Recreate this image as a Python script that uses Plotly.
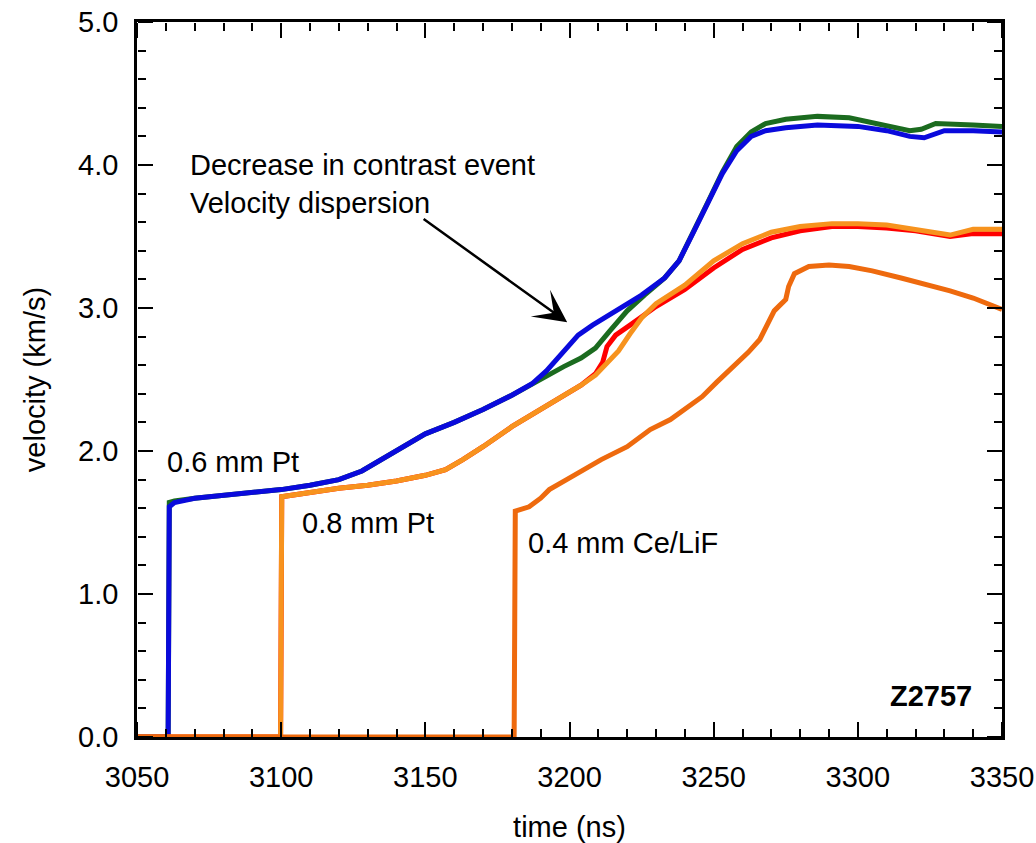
import plotly.graph_objects as go

# 0.6 mm Pt (blue)
t_blue = [3050, 3060.8, 3061.2, 3063, 3070, 3080, 3090, 3100, 3110, 3120, 3128, 3133, 3140, 3150, 3160, 3170, 3180, 3187,
          3192, 3197, 3203, 3208, 3215, 3225, 3233, 3238, 3243, 3248, 3253, 3258, 3263, 3268, 3275, 3286, 3300, 3310,
          3318, 3323, 3326, 3330, 3340, 3350]
v_blue = [0, 0, 1.61, 1.64, 1.67, 1.69, 1.71, 1.73, 1.76, 1.80, 1.86, 1.92, 2.01, 2.12, 2.20, 2.29, 2.39, 2.47,
          2.56, 2.67, 2.81, 2.88, 2.97, 3.09, 3.21, 3.33, 3.53, 3.74, 3.94, 4.10, 4.20, 4.24, 4.26, 4.28, 4.27, 4.24,
          4.20, 4.19, 4.21, 4.24, 4.24, 4.23]

# 0.6 mm Pt (green)
t_green = [3050, 3060.8, 3061.2, 3063, 3070, 3080, 3090, 3100, 3110, 3120, 3128, 3133, 3140, 3150, 3160, 3170, 3180, 3187,
           3192, 3198, 3204, 3209, 3214, 3220, 3226, 3233, 3238, 3243, 3248, 3253, 3258, 3263, 3268, 3275, 3286, 3297,
           3308, 3318, 3322, 3327, 3340, 3350]
v_green = [0, 0, 1.64, 1.65, 1.67, 1.69, 1.71, 1.73, 1.76, 1.80, 1.86, 1.92, 2.01, 2.12, 2.20, 2.29, 2.39, 2.47,
           2.53, 2.59, 2.65, 2.72, 2.84, 2.98, 3.09, 3.21, 3.33, 3.53, 3.74, 3.95, 4.13, 4.23, 4.29, 4.32, 4.34, 4.33,
           4.28, 4.24, 4.25, 4.29, 4.28, 4.27]

# 0.8 mm Pt (red)
t_red = [3050, 3099.8, 3100.2, 3110, 3120, 3130, 3140, 3150, 3157, 3163, 3170, 3180, 3190, 3198, 3204, 3209, 3211.5,
         3213, 3216, 3221, 3230, 3240, 3250, 3260, 3270, 3280, 3291, 3300, 3310, 3320, 3332, 3340, 3350]
v_red = [0, 0, 1.68, 1.71, 1.74, 1.76, 1.79, 1.83, 1.87, 1.94, 2.03, 2.17, 2.29, 2.38, 2.46, 2.54, 2.62,
         2.73, 2.81, 2.88, 3.01, 3.13, 3.28, 3.41, 3.49, 3.54, 3.57, 3.57, 3.56, 3.54, 3.50, 3.52, 3.52]

# 0.8 mm Pt (light orange)
t_orange = [3050, 3099.8, 3100.2, 3110, 3120, 3130, 3140, 3150, 3157, 3163, 3170, 3180, 3190, 3198, 3204, 3209, 3213,
            3217, 3221, 3225, 3230, 3240, 3250, 3260, 3270, 3280, 3291, 3300, 3310, 3320, 3332, 3340, 3350]
v_orange = [0, 0, 1.68, 1.71, 1.74, 1.76, 1.79, 1.83, 1.87, 1.94, 2.03, 2.17, 2.29, 2.38, 2.46, 2.53, 2.61,
            2.70, 2.82, 2.93, 3.03, 3.16, 3.33, 3.45, 3.53, 3.57, 3.59, 3.59, 3.58, 3.55, 3.51, 3.55, 3.55]

# 0.4 mm Ce/LiF (dark orange)
t_ce = [3050, 3180.8, 3181.2, 3186, 3190, 3193, 3199, 3205, 3211, 3220, 3228, 3235, 3240, 3246, 3251, 3257, 3262, 3266,
        3269, 3271, 3273, 3275, 3276, 3278, 3283, 3290, 3297, 3305, 3315, 3325, 3332, 3340, 3350]
v_ce = [0, 0, 1.58, 1.61, 1.67, 1.73, 1.80, 1.87, 1.94, 2.03, 2.15, 2.22, 2.29, 2.38, 2.48, 2.59, 2.69, 2.78,
        2.90, 2.98, 3.02, 3.06, 3.15, 3.24, 3.29, 3.30, 3.29, 3.26, 3.21, 3.16, 3.12, 3.07, 2.99]

X_RANGE = [3050, 3350]
Y_RANGE = [0, 5]

FONT = "Liberation Sans, Arial, sans-serif"
FS = 29
LW = 5

fig = go.Figure()
series = [
    (t_green, v_green, "#1B6B1F"),
    (t_blue, v_blue, "#0A0ADC"),
    (t_red, v_red, "#FF0000"),
    (t_orange, v_orange, "#F7931E"),
    (t_ce, v_ce, "#EE6A0E"),
]
for t, v, c in series:
    fig.add_trace(go.Scatter(x=t, y=v, mode="lines", line=dict(color=c, width=LW),
                             showlegend=False, cliponaxis=False))

# empty carriers for the tick-only overlay axes
for xa, ya in [("x2", "y2"), ("x3", "y3"), ("x2", "y"), ("x3", "y")]:
    fig.add_trace(go.Scatter(x=[], y=[], xaxis=xa, yaxis=ya, showlegend=False, hoverinfo="skip"))

title_font = dict(family=FONT, size=FS, color="black")
fig.update_layout(
    xaxis=dict(range=X_RANGE, tickmode="linear", tick0=3050, dtick=50, ticklabelstandoff=12,
               showline=True, linecolor="black", linewidth=2.5, mirror=True, ticks="",
               showgrid=False, zeroline=False, automargin=False,
               tickfont=dict(family=FONT, size=FS, color="black"),
               title=dict(text="time (ns)", font=title_font, standoff=28)),
    yaxis=dict(range=Y_RANGE, tickmode="linear", tick0=0, dtick=1, tickformat=".1f", ticklabelstandoff=10,
               showline=True, linecolor="black", linewidth=2.5, mirror=True, ticks="",
               showgrid=False, zeroline=False, automargin=False,
               tickfont=dict(family=FONT, size=FS, color="black"),
               title=dict(text="velocity (km/s)", font=title_font, standoff=24)),
)

tick_only = dict(showticklabels=False, showline=False, showgrid=False, zeroline=False, automargin=False,
                 ticks="outside", ticklen=15, tickwidth=2, tickcolor="black", anchor="free", tickmode="linear")
minor_x = dict(dtick=10, ticks="outside", ticklen=8, tickwidth=2, tickcolor="black", showgrid=False)
minor_y = dict(dtick=0.2, ticks="outside", ticklen=8, tickwidth=2, tickcolor="black", showgrid=False)

fig.update_layout(
    # bottom edge, ticks pointing up into the plot
    xaxis2=dict(range=X_RANGE, tick0=3050, dtick=50, overlaying="x", side="top", position=0, minor=minor_x, **tick_only),
    # top edge, ticks pointing down into the plot
    xaxis3=dict(range=X_RANGE, tick0=3050, dtick=50, overlaying="x", side="bottom", position=1, minor=minor_x, **tick_only),
    # left edge, ticks pointing right into the plot
    yaxis2=dict(range=Y_RANGE, tick0=0, dtick=1, overlaying="y", side="right", position=0, minor=minor_y, **tick_only),
    # right edge, ticks pointing left into the plot
    yaxis3=dict(range=Y_RANGE, tick0=0, dtick=1, overlaying="y", side="left", position=1, minor=minor_y, **tick_only),
)

ann_font = dict(family=FONT, size=FS, color="black")
fig.add_annotation(x=3059.7, y=1.92, text="0.6 mm Pt", showarrow=False, xanchor="left", yanchor="middle", font=ann_font)
fig.add_annotation(x=3106.5, y=1.50, text="0.8 mm Pt", showarrow=False, xanchor="left", yanchor="middle", font=ann_font)
fig.add_annotation(x=3185, y=1.36, text="0.4 mm Ce/LiF", showarrow=False, xanchor="left", yanchor="middle", font=ann_font)
fig.add_annotation(x=3067.7, y=3.87, text="Decrease in contrast event<br>Velocity dispersion", showarrow=False,
                   xanchor="left", yanchor="middle", align="left", font=ann_font)
fig.add_annotation(x=3325.5, y=0.29, text="<b>Z2757</b>", showarrow=False, xanchor="center", yanchor="middle",
                   font=dict(family=FONT, size=FS, color="black"))
fig.add_annotation(x=3199.2, y=2.90, ax=3148.9, ay=3.63, axref="x", ayref="y", text="", showarrow=True,
                   arrowhead=3, arrowsize=2.2, arrowwidth=2.5, arrowcolor="black")

fig.update_layout(
    width=1036, height=843,
    margin=dict(l=137, r=34, t=22, b=106),
    paper_bgcolor="white", plot_bgcolor="white",
    font=dict(family=FONT, color="black"),
)
fig.write_html("out.html")
